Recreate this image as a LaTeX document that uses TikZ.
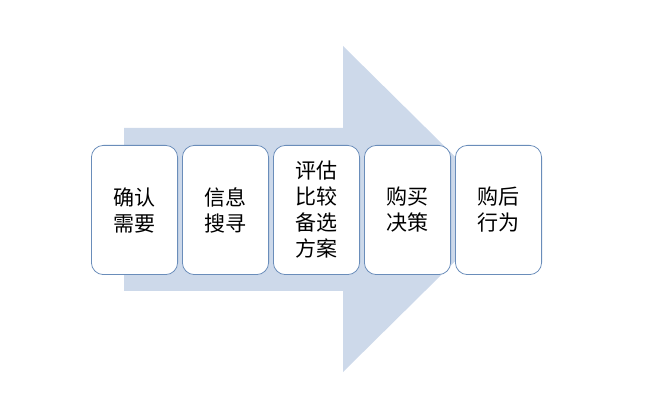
\documentclass[tikz,border=0pt]{standalone}
\usepackage{fontspec}
\newfontfamily\cjk{Noto Sans CJK SC}
\usepackage{xcolor}
\usetikzlibrary{positioning}
\definecolor{arrowblue}{HTML}{CDD9EA}
\definecolor{boxblue}{HTML}{6A8DBA}

\begin{document}
\begin{tikzpicture}[
    x=1pt, y=-1pt,
    stage/.style={rectangle, draw=boxblue, fill=white, line width=0.8pt,
                  minimum width=86.2pt, minimum height=129.2pt, rounded corners=12pt,
                  inner sep=0pt, align=center, font=\cjk\fontsize{21}{26}\selectfont},
    node distance=4pt
]
\useasboundingbox (0,0) rectangle (648,403);

% Big arrow behind the stages
\fill[arrowblue] (124,128) -- (343,128) -- (343,46) -- (508,209)
    -- (343,372) -- (343,291) -- (124,291) -- cycle;

% Stages
\node[stage] at (134.5,210) (need) {确认\\需要};
\node[stage, right=of need] (search) {信息\\搜寻};
\node[stage, right=of search] (compare) {评估\\比较\\备选\\方案};
\node[stage, right=of compare] (buy) {购买\\决策};
\node[stage, right=of buy] (after) {购后\\行为};

\end{tikzpicture}
\end{document}
